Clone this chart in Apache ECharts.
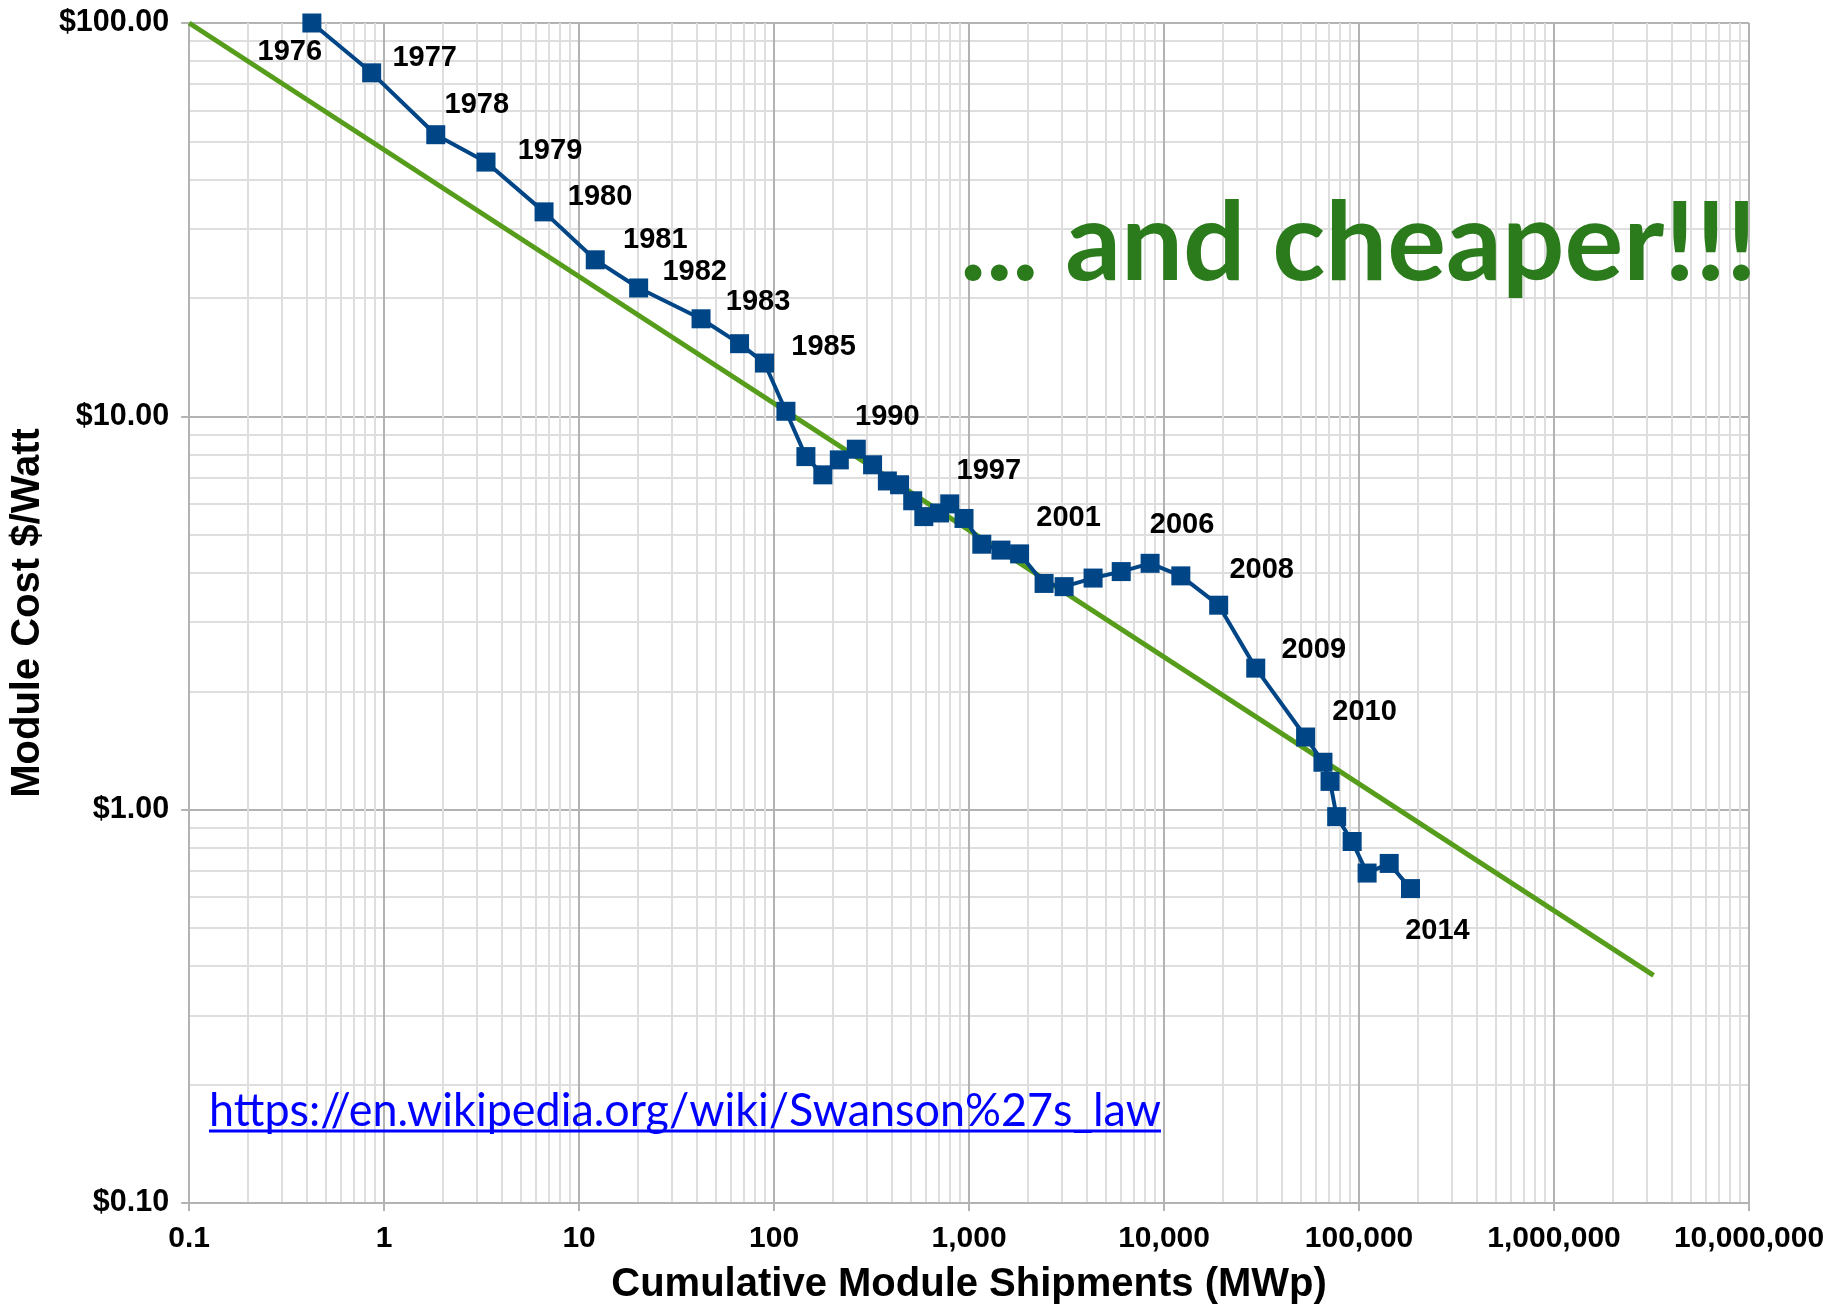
<!DOCTYPE html>
<html>
<head>
<meta charset="utf-8">
<title>Swanson's law – module cost vs cumulative shipments</title>
<script src="https://cdn.jsdelivr.net/npm/echarts@6/dist/echarts.min.js"></script>
<style>
  html, body { margin: 0; padding: 0; background: #ffffff; }
  #chart { width: 1845px; height: 1310px; }
</style>
</head>
<body>
<div id="chart"></div>
<script>
// Cumulative module shipments (MWp) and module price ($/W), one entry per data point
const shipmentsMWp = [0.426, 0.863, 1.84, 3.33, 6.61, 12.1, 20.2, 42.2, 66.5, 89.3,
  115, 145.6, 177.8, 216, 264, 320, 381, 440, 514, 586,
  705, 796, 942, 1162, 1457, 1816, 2425, 3072, 4325, 6030,
  8480, 12190, 19060, 29530, 53200, 65300, 71000, 76800, 92200, 110000,
  142800, 183600];
const costPerWatt = [100, 74.7, 52.0, 44.3, 33.1, 25.0, 21.2, 17.7, 15.3, 13.66,
  10.3, 7.9, 7.1, 7.75, 8.25, 7.53, 6.85, 6.7, 6.1, 5.56,
  5.68, 5.99, 5.5, 4.73, 4.57, 4.47, 3.76, 3.69, 3.88, 4.03,
  4.23, 3.93, 3.31, 2.29, 1.53, 1.32, 1.18, 0.96, 0.83, 0.69,
  0.73, 0.63];

// Year annotations: which point each year belongs to
const yearPointIndex = [0, 1, 2, 3, 4, 5, 6, 7, 9, 14, 21, 25, 30, 32, 33, 34, 41];
const yearText = ['1976', '1977', '1978', '1979', '1980', '1981', '1982', '1983', '1985',
  '1990', '1997', '2001', '2006', '2008', '2009', '2010', '2014'];

// Swanson's law trend line (price falls ~20% per doubling of shipments)
const trendShipments = [0.1, 3240000];
const trendCost = [100, 0.379];

// Axis tick labels, one per decade
const xTickLabels = ['0.1', '1', '10', '100', '1,000', '10,000', '100,000', '1,000,000', '10,000,000'];
const yTickLabels = ['$0.10', '$1.00', '$10.00', '$100.00'];

// ---- styling ----
const BLUE = '#004586';
const GREEN = '#579d1c';
const MAJOR_GRID = '#b3b3b3';
const MINOR_GRID = '#dedede';
const LABEL_FONT = 'Liberation Sans, Arial, sans-serif';

// where each year annotation sits relative to its point (px)
const yearOffsets = [[-22, 29], [53, -15], [41, -30], [64, -11], [56, -15], [60, -20], [56, -16],
  [57, -17], [59, -16], [31, -32], [39, -33], [49, -36], [32, -38], [43, -35], [58, -18],
  [59, -25], [27, 42]];

const priceData = shipmentsMWp.map(function (x, i) {
  return [x, costPerWatt[i]];
});

const trendData = trendShipments.map(function (x, i) { return [x, trendCost[i]]; });

// fit free-standing annotation text to a target width
function fitScale(text, font, targetWidth) {
  const ctx = document.createElement('canvas').getContext('2d');
  ctx.font = font;
  const w = ctx.measureText(text).width;
  return w > 0 ? targetWidth / w : 1;
}

const sloganText = '... and cheaper!!!';
const sloganFont = 'bold 109px Lato';
const linkText = 'https://en.wikipedia.org/wiki/Swanson%27s_law';
const linkFont = '46px Lato';

const chart = echarts.init(document.getElementById('chart'), null, { renderer: 'canvas' });

chart.setOption({
  animation: false,
  backgroundColor: '#ffffff',
  grid: { left: 185, right: 96, top: 23, bottom: 107, containLabel: false },
  xAxis: {
    type: 'log',
    logBase: 10,
    min: 0.1,
    max: 10000000,
    splitNumber: 8,
    name: 'Cumulative Module Shipments (MWp)',
    nameLocation: 'middle',
    nameGap: 62,
    nameTextStyle: { fontFamily: LABEL_FONT, fontWeight: 'bold', fontSize: 40, color: '#000000' },
    axisLine: { show: true, lineStyle: { color: MAJOR_GRID, width: 2 } },
    axisTick: { show: true, length: 8, lineStyle: { color: MAJOR_GRID, width: 2 } },
    axisLabel: {
      margin: 21,
      fontFamily: LABEL_FONT, fontWeight: 'bold', fontSize: 30, color: '#000000',
      formatter: function (v) { return xTickLabels[Math.round(Math.log10(v)) + 1]; }
    },
    splitLine: { show: true, lineStyle: { color: MAJOR_GRID, width: 2 } },
    minorTick: { show: false, splitNumber: 9 },
    minorSplitLine: { show: true, lineStyle: { color: MINOR_GRID, width: 2 } }
  },
  yAxis: {
    type: 'log',
    logBase: 10,
    min: 0.1,
    max: 100,
    splitNumber: 3,
    name: 'Module Cost $/Watt',
    nameLocation: 'middle',
    nameGap: 139,
    nameTextStyle: { fontFamily: LABEL_FONT, fontWeight: 'bold', fontSize: 40, color: '#000000' },
    axisLine: { show: true, lineStyle: { color: MAJOR_GRID, width: 2 } },
    axisTick: { show: true, length: 8, lineStyle: { color: MAJOR_GRID, width: 2 } },
    axisLabel: {
      margin: 20,
      fontFamily: LABEL_FONT, fontWeight: 'bold', fontSize: 30.5, color: '#000000',
      formatter: function (v) { return yTickLabels[Math.round(Math.log10(v)) + 1]; }
    },
    splitLine: { show: true, lineStyle: { color: MAJOR_GRID, width: 2 } },
    minorTick: { show: false, splitNumber: 9 },
    minorSplitLine: { show: true, lineStyle: { color: MINOR_GRID, width: 2 } }
  },
  series: [
    {
      name: "Swanson's law",
      type: 'line',
      data: trendData,
      symbol: 'none',
      silent: true,
      z: 2,
      lineStyle: { color: GREEN, width: 5 }
    },
    {
      name: 'Module price',
      type: 'line',
      data: priceData,
      symbol: 'rect',
      symbolSize: 19,
      showAllSymbol: true,
      z: 3,
      itemStyle: { color: BLUE },
      lineStyle: { color: BLUE, width: 4 },
      label: {
        show: true,
        position: 'inside',
        align: 'center',
        verticalAlign: 'middle',
        color: '#000000',
        fontFamily: LABEL_FONT,
        fontWeight: 'bold',
        fontSize: 29,
        formatter: function (p) {
          const k = yearPointIndex.indexOf(p.dataIndex);
          return k >= 0 ? yearText[k] : '';
        }
      },
      labelLayout: function (p) {
        const k = yearPointIndex.indexOf(p.dataIndex);
        const off = k >= 0 ? yearOffsets[k] : [0, 0];
        return { dx: off[0], dy: off[1], hideOverlap: false };
      }
    }
  ],
  graphic: [
    {
      type: 'text',
      x: 960,
      y: 245,
      scaleX: fitScale(sloganText, sloganFont, 797),
      z: 10,
      style: {
        text: sloganText,
        font: sloganFont,
        fill: '#2b7a1b',
        align: 'left',
        verticalAlign: 'middle',
        shadowColor: '#7fd56b',
        shadowOffsetX: -2,
        shadowOffsetY: -2,
        shadowBlur: 0
      }
    },
    {
      type: 'text',
      x: 209,
      y: 1111,
      scaleX: fitScale(linkText, linkFont, 952),
      z: 10,
      style: {
        text: linkText,
        font: linkFont,
        fill: '#0000ff',
        align: 'left',
        verticalAlign: 'middle'
      }
    },
    {
      type: 'line',
      z: 10,
      shape: { x1: 209, y1: 1131, x2: 1161, y2: 1131 },
      style: { stroke: '#0000ff', lineWidth: 3 }
    }
  ]
});
</script>
</body>
</html>
